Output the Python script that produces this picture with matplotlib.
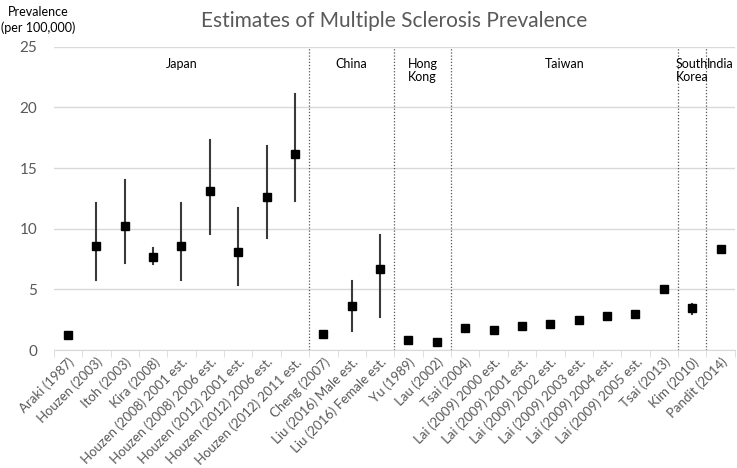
import numpy as np
import matplotlib
matplotlib.use('Agg')
import matplotlib.pyplot as plt

plt.rcParams['font.family'] = ['Lato', 'DejaVu Sans']

studies = ['Araki (1987)', 'Houzen (2003)', 'Itoh (2003)', 'Kira (2008)',
           'Houzen (2008) 2001 est.', 'Houzen (2008) 2006 est.',
           'Houzen (2012) 2001 est.', 'Houzen (2012) 2006 est.',
           'Houzen (2012) 2011 est.', 'Cheng (2007)', 'Liu (2016) Male est.',
           'Liu (2016) Female est.', 'Yu (1989)', 'Lau (2002)', 'Tsai (2004)',
           'Lai (2009) 2000 est.', 'Lai (2009) 2001 est.', 'Lai (2009) 2002 est.',
           'Lai (2009) 2003 est.', 'Lai (2009) 2004 est.', 'Lai (2009) 2005 est.',
           'Tsai (2013)', 'Kim (2010)', 'Pandit (2014)']
prevalence = [1.25, 8.6, 10.2, 7.7, 8.6, 13.1, 8.1, 12.6, 16.2, 1.35, 3.65, 6.7,
              0.85, 0.7, 1.85, 1.65, 2.0, 2.15, 2.45, 2.8, 2.95, 5.0, 3.5, 8.3]
ci_low = [None, 5.8, 7.2, 7.1, 5.8, 9.6, 5.35, 9.2, 12.3, None, 1.6, 2.7,
          None, None, None, None, None, None, None, None, None, None, 3.0, None]
ci_high = [None, 12.1, 14.0, 8.4, 12.1, 17.35, 11.7, 16.85, 21.1, None, 5.7, 9.5,
           None, None, None, None, None, None, None, None, None, None, 3.8, None]

countries = ['Japan', 'China', 'Hong\nKong', 'Taiwan', 'South\nKorea', 'India']
country_counts = [9, 3, 2, 8, 1, 1]

x = np.arange(len(studies))
fig = plt.figure(figsize=(7.37, 4.68), dpi=100)
ax = fig.add_axes([0.073, 0.252, 0.924, 0.648])

for i in range(len(studies)):
    if ci_low[i] is not None:
        ax.plot([x[i], x[i]], [ci_low[i], ci_high[i]], color='#3a3a3a', lw=1.5, zorder=2)
ax.plot(x, prevalence, 's', color='black', markersize=6, zorder=3)

ax.set_xlim(-0.5, len(studies) - 0.5)
ax.set_ylim(0, 25)
ax.set_yticks([0, 5, 10, 15, 20, 25])
ax.yaxis.grid(True, color='#d9d9d9', lw=1)
ax.set_axisbelow(True)
for s in ['top', 'right', 'left']:
    ax.spines[s].set_visible(False)
ax.spines['bottom'].set_color('#d9d9d9')
ax.tick_params(axis='y', length=0, labelsize=11, labelcolor='#595959', pad=12)

ax.set_xticks(x)
ax.set_xticklabels(studies, rotation=45, ha='right', rotation_mode='anchor',
                   fontsize=9.5, color='#595959')
ax.tick_params(axis='x', length=0, pad=4)
ax.set_xticks(np.arange(len(studies) + 1) - 0.5, minor=True)
ax.tick_params(axis='x', which='minor', length=5, color='#d9d9d9', direction='out')

# country separators and labels
start = 0
for name, n in zip(countries, country_counts):
    end = start + n
    center = (start + end - 1) / 2
    ax.text(center, 24.1, name, ha='center', va='top', fontsize=9, color='black',
            linespacing=1.1)
    if end < len(studies):
        ax.plot([end - 0.5, end - 0.5], [0, 25], color='#555555', lw=0.9,
                linestyle=(0, (1, 1.5)), zorder=1)
    start = end

fig.text(0.535, 0.955, 'Estimates of Multiple Sclerosis Prevalence', ha='center',
         va='center', fontsize=15, color='#595959')
fig.text(0.052, 0.957, 'Prevalence\n(per 100,000)', ha='center', va='center',
         fontsize=9, color='black', linespacing=1.3)

plt.savefig('out.png', dpi=100)
